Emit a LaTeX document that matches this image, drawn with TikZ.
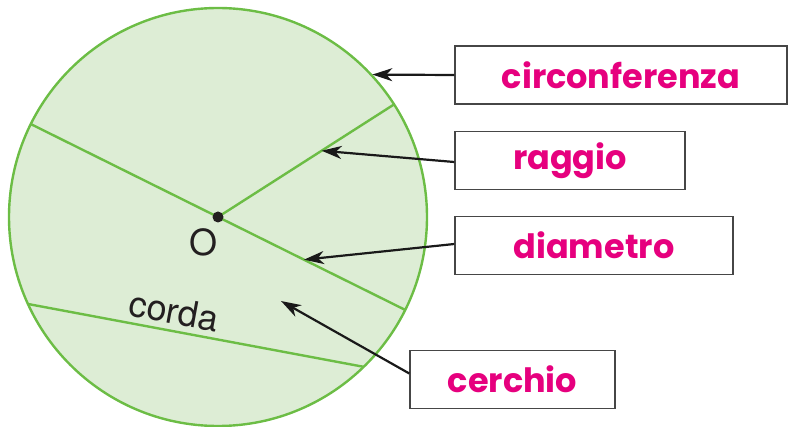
\documentclass[tikz,border=0pt]{standalone}
\usepackage{fontspec}
\setmainfont{TeX Gyre Heros}
\newfontfamily\labfont{Poppins}
\usetikzlibrary{arrows.meta, calc}
\definecolor{circgreen}{RGB}{108,189,69}
\definecolor{circfill}{RGB}{221,237,213}
\definecolor{labpink}{RGB}{230,0,126}
\definecolor{txtgray}{RGB}{35,31,32}
\definecolor{boxgray}{RGB}{70,70,70}
\tikzset{
  % linee del cerchio
  geomline/.style = {line width=2.4pt, draw=circgreen},
  % riquadri delle etichette
  labbox/.style   = {draw=boxgray, line width=1.4pt, fill=white,
                     minimum height=58pt, inner sep=0pt, text=labpink,
                     font=\labfont\bfseries\fontsize{33.5}{40}\selectfont},
  % frecce
  pointer/.style  = {-{Stealth[length=20pt, width=13pt, inset=6pt]},
                     line width=2.2pt, black!90},
  % punti e testi
  dotpt/.style    = {circle, fill=txtgray, inner sep=0pt, minimum size=11pt},
  geomlab/.style  = {font=\fontsize{36}{40}\selectfont, text=txtgray, inner sep=0pt},
}
\begin{document}
\begin{tikzpicture}[x=1pt, y=-1pt]
  \useasboundingbox (0,0) rectangle (789,427);
  % cerchio
  \coordinate (O) at (218,217);
  \draw[geomline, fill=circfill] (O) circle (209);
  % diametro, raggio, corda
  \draw[geomline] ($(O)+(206.4:209)$) -- ($(O)+(26.4:209)$);
  \draw[geomline] (O) -- ($(O)+(-32.6:209)$);
  \draw[geomline] ($(O)+(155.4:209)$) -- ($(O)+(45.8:209)$);
  \node[dotpt] (centre) at (O) {};
  \node[geomlab] (lblO) at (204,242) {O};
  \node[geomlab, rotate=-10.5] (lblcorda) at (174,311) {corda};
  % punte delle frecce
  \coordinate (tipcirc) at ($(O)+(-42.7:210)$);
  \coordinate (tiprag)  at ($(O)+(-32.6:123)$);
  \coordinate (tipdiam) at ($(O)+(26.4:96)$);
  \coordinate (tipcer)  at (281,301);
  % etichette
  \node[labbox, minimum width=332pt] (circonf) at (621,75)    {circonferenza};
  \node[labbox, minimum width=230pt] (raggio)  at (570,160.5) {raggio};
  \node[labbox, minimum width=278pt] (diam)    at (594,245.5) {diametro};
  \node[labbox, minimum width=205pt] (cerchio) at (512.5,379.5) {cerchio};
  % frecce
  \draw[pointer] (circonf.west) -- (tipcirc);
  \draw[pointer] ([yshift=-1.5pt]raggio.west) -- (tiprag);
  \draw[pointer] ([yshift=1.5pt]diam.west) -- (tipdiam);
  \draw[pointer] ([yshift=6pt]cerchio.west) -- (tipcer);
\end{tikzpicture}
\end{document}
